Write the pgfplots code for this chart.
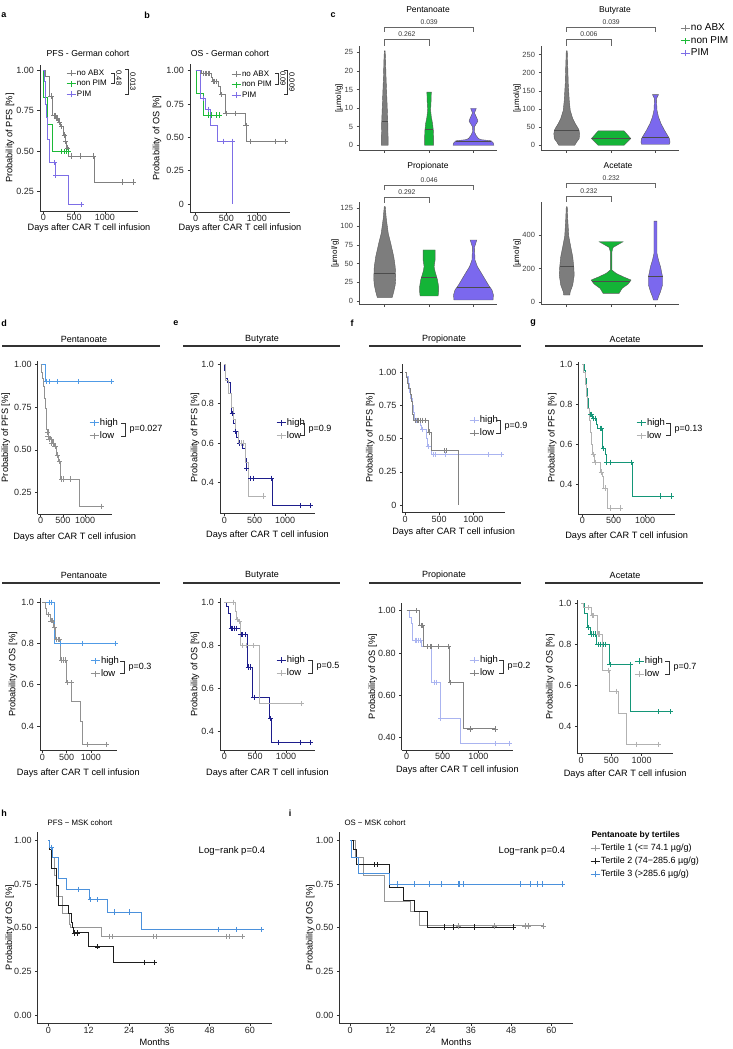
\documentclass[border=0pt]{standalone}
\usepackage{fontspec}
\setmainfont{Liberation Sans}
\usepackage{pgfplots}
\pgfplotsset{compat=1.18}
\newcommand{\fs}[1]{\fontsize{#1}{#1}\selectfont}
\definecolor{gABX}{RGB}{128,128,128}
\definecolor{gNon}{RGB}{28,185,55}
\definecolor{gPIM}{RGB}{125,110,230}
\definecolor{vGray}{RGB}{125,125,125}
\definecolor{vGreen}{RGB}{20,180,55}
\definecolor{vPurple}{RGB}{123,104,238}
\definecolor{hiBlue}{RGB}{80,155,230}
\definecolor{loGray}{RGB}{145,145,145}
\definecolor{hiNavy}{RGB}{30,30,140}
\definecolor{loLight}{RGB}{178,178,178}
\definecolor{hiLav}{RGB}{170,180,240}
\definecolor{loMid}{RGB}{130,130,130}
\definecolor{hiTeal}{RGB}{20,150,120}
\definecolor{tOne}{RGB}{150,150,150}
\definecolor{tTwo}{RGB}{30,30,30}
\definecolor{tThree}{RGB}{75,145,220}
\definecolor{axc}{RGB}{50,50,50}
\pgfplotsset{
  legend image code/.code={\draw[#1,line width=0.8pt,solid] (0pt,0pt)--(9pt,0pt); \draw[#1,line width=0.8pt,solid] (4.5pt,-3pt)--(4.5pt,3pt);},
  every axis legend/.append style={draw=none, fill=none, inner sep=0pt, anchor=north west},
  legend cell align=left,
  base/.style={
    scale only axis, anchor=south west,
    axis x line*=bottom, axis y line*=left,
    axis line style={line width=0.6pt, axc},
    tick style={line width=0.6pt, axc},
    tick align=outside, major tick length=2.5pt,
    /pgf/number format/assume math mode=true,
    every axis y label/.style={at={(axis description cs:0,0.5)}, anchor=center, rotate=90},
    every axis x label/.style={at={(axis description cs:0.5,0)}, anchor=center},
    clip=false,
  },
  km/.style={base,
    ticklabel style={font=\fs{9}, text=black!85},
    xticklabel style={inner sep=1pt},
    label style={font=\fs{9.2}},
    xtick={0,500,1000}, xticklabels={0,500,1000},
    xlabel={Days after CAR T cell infusion},
    legend style={row sep=2pt, nodes={inner sep=1pt, text height=7pt, text depth=2pt, font=\fs{9.5}}},
  },
  vax/.style={base, width=138pt, xmin=0.42, xmax=3.53, xtick={1,2,3}, xticklabels={},
    ticklabel style={font=\fs{7.5}, text=black!75},
    axis line style={line width=0.5pt, black!70}, tick style={line width=0.5pt, black!70},
    ylabel={[µmol/g]}, label style={font=\fs{8}},
  },
  cur/.style={const plot, line width=0.85pt, color=#1, mark=none},
  cen/.style={only marks, mark=+, mark size=2.6pt, color=#1, mark options={line width=0.7pt, solid}, forget plot},
  vio/.style={fill=#1, draw=black!65, line width=0.4pt, forget plot},
  med/.style={black!70, line width=0.5pt, forget plot},
}
\begin{document}
\begin{tikzpicture}
\path[use as bounding box] (0,0) rectangle (733pt,-1049pt);

%================ a =================
\begin{axis}[km, at={(40pt,-211pt)}, width=98pt, height=146pt,
 xmin=-53, xmax=1535, ymin=0.131, ymax=1.031,
 ytick={0.25,0.5,0.75,1}, yticklabels={0.25,0.50,0.75,1.00},
 ylabel={Probability of PFS [\%]}, ylabel style={yshift=30pt}, xlabel style={yshift=-17pt},
 legend style={at={(0.265,0.979)}, row sep=0.5pt, nodes={text height=6pt, text depth=2pt, font=\fs{8}}}]
\addplot[cur=gABX] coordinates {(0,1)(38,0.96)(97,0.84)(151,0.72)(200,0.70)(240,0.68)(281,0.65)(324,0.60)(351,0.56)(378,0.52)(405,0.47)(826,0.31)(1458,0.31)}; \addlegendentry{no ABX}
\addplot[cur=gNon] coordinates {(0,1)(5,0.833)(70,0.667)(146,0.5)(405,0.5)}; \addlegendentry{non PIM}
\addplot[cur=gPIM] coordinates {(0,1)(15,0.93)(30,0.86)(40,0.79)(55,0.71)(65,0.57)(97,0.43)(189,0.35)(405,0.17)(621,0.17)}; \addlegendentry{PIM}
\addplot[cen=gABX] coordinates {(125,0.84)(175,0.72)(190,0.72)(215,0.70)(230,0.70)(260,0.68)(300,0.65)(340,0.60)(365,0.56)(390,0.52)(459,0.47)(600,0.47)(810,0.47)(1285,0.31)(1458,0.31)};
\addplot[cen=gNon] coordinates {(286,0.5)(340,0.5)(378,0.5)(405,0.5)};
\addplot[cen=gPIM] coordinates {(180,0.43)(200,0.35)(621,0.17)};
\end{axis}

%================ b =================
\begin{axis}[km, at={(190pt,-212pt)}, width=100pt, height=148pt,
 xmin=-93, xmax=1541, ymin=-0.06, ymax=1.05,
 ytick={0,0.25,0.5,0.75,1}, yticklabels={0,0.25,0.50,0.75,1.00},
 ylabel={Probability of OS [\%]}, ylabel style={yshift=33pt}, xlabel style={yshift=-16pt},
 legend style={at={(0.41,0.966)}, row sep=0.5pt, nodes={text height=6pt, text depth=2pt, font=\fs{8}}}]
\addplot[cur=gABX] coordinates {(0,1)(98,0.98)(262,0.95)(278,0.92)(371,0.88)(398,0.82)(480,0.68)(807,0.59)(834,0.47)(1461,0.47)}; \addlegendentry{no ABX}
\addplot[cur=gNon] coordinates {(0,1)(5,0.833)(125,0.667)(387,0.667)}; \addlegendentry{non PIM}
\addplot[cur=gPIM] coordinates {(0,1)(71,0.79)(153,0.71)(234,0.59)(354,0.47)(600,0)}; \addlegendentry{PIM}
\addplot[cen=gABX] coordinates {(120,0.98)(150,0.98)(175,0.98)(200,0.98)(230,0.98)(290,0.92)(310,0.92)(340,0.92)(425,0.82)(496,0.68)(643,0.68)(823,0.59)(888,0.47)(1297,0.47)(1461,0.47)};
\addplot[cen=gNon] coordinates {(207,0.667)(262,0.667)(332,0.667)(387,0.667)};
\addplot[cen=gPIM] coordinates {(125,0.79)(200,0.71)(460,0.47)(600,0.47)};
\end{axis}

%================ c: Pentanoate =================
\begin{axis}[vax, at={(359pt,-150pt)}, height=103.6pt, ymin=-1.27, ymax=26.6,
 ytick={0,5,10,15,20,25}, yticklabels={0,5,10,15,20,25}, ylabel style={yshift=20pt}]
\addplot[vio=vGray] coordinates {(1.077,0)(1.074,3)(1.068,6.5)(1.050,12)(1.029,18.4)(1.018,23)(1.009,25.4)(0.991,25.4)(0.982,23)(0.971,18.4)(0.950,12)(0.932,6.5)(0.926,3)(0.923,0)} --cycle;
\addplot[vio=vGreen] coordinates {(2.101,0)(2.101,2.2)(2.095,4)(2.079,5.8)(2.050,7.6)(2.034,9.4)(2.045,12.1)(2.050,14.3)(1.950,14.3)(1.955,12.1)(1.966,9.4)(1.950,7.6)(1.921,5.8)(1.905,4)(1.899,2.2)(1.899,0)} --cycle;
\addplot[vio=vPurple] coordinates {(3.46,0)(3.45,0.6)(3.40,1.2)(3.18,1.5)(3.113,1.8)(3.056,2.7)(3.023,3.6)(3.018,4.9)(3.056,5.65)(3.101,6.5)(3.079,7.2)(3.023,8.7)(3.063,9.9)(2.937,9.9)(2.977,8.7)(2.921,7.2)(2.899,6.5)(2.944,5.65)(2.982,4.9)(2.977,3.6)(2.944,2.7)(2.887,1.8)(2.82,1.5)(2.60,1.2)(2.55,0.6)(2.54,0)} --cycle;
\addplot[med] coordinates {(0.932,6.45)(1.068,6.45)};
\addplot[med] coordinates {(1.905,4.3)(2.095,4.3)};
\addplot[med] coordinates {(2.60,1.2)(3.40,1.2)};
\end{axis}

%================ c: Butyrate =================
\begin{axis}[vax, at={(541pt,-150pt)}, height=103.8pt, ymin=-13, ymax=273,
 ytick={0,50,100,150,200,250}, yticklabels={0,50,100,150,200,250}, ylabel style={yshift=24pt},
 legend style={at={(1.007,1.233)}, row sep=0.5pt, nodes={inner sep=1pt, text height=7.5pt, text depth=2.5pt, font=\fs{10}}}]
\addplot[vio=vGray] coordinates {(1.18,0)(1.225,9.2)(1.28,18.4)(1.29,32)(1.277,41.3)(1.26,46)(1.19,60)(1.135,73.5)(1.079,96)(1.056,124)(1.034,170)(1.023,216)(1.011,260)(0.989,260)(0.977,216)(0.966,170)(0.944,124)(0.921,96)(0.865,73.5)(0.81,60)(0.74,46)(0.723,41.3)(0.71,32)(0.72,18.4)(0.775,9.2)(0.82,0)} --cycle;
\addplot[vio=vGreen] coordinates {(2.293,0)(2.444,18.4)(2.293,39.5)(1.707,39.5)(1.556,18.4)(1.707,0)} --cycle;
\addplot[vio=vPurple] coordinates {(3.315,2.8)(3.327,9.2)(3.315,18.4)(3.27,27.6)(3.203,41.3)(3.124,59.8)(3.068,78)(3.034,96.5)(3.023,128.6)(3.068,139.7)(2.932,139.7)(2.977,128.6)(2.966,96.5)(2.932,78)(2.876,59.8)(2.797,41.3)(2.73,27.6)(2.685,18.4)(2.673,9.2)(2.685,2.8)} --cycle;
\addplot[med] coordinates {(0.723,41.3)(1.277,41.3)};
\addplot[med] coordinates {(1.56,19)(2.44,19)};
\addplot[med] coordinates {(2.70,23)(3.30,23)};
\addlegendimage{color=gABX, line width=0.8pt} \addlegendentry{no ABX}
\addlegendimage{color=gNon, line width=0.8pt} \addlegendentry{non PIM}
\addlegendimage{color=gPIM, line width=0.8pt} \addlegendentry{PIM}
\end{axis}

%================ c: Propionate =================
\begin{axis}[vax, at={(359pt,-304.7pt)}, height=102.3pt, ymin=-5.25, ymax=132.25,
 ytick={0,25,50,75,100,125}, yticklabels={0,25,50,75,100,125}, ylabel style={yshift=24pt}]
\addplot[vio=vGray] coordinates {(1.169,4.7)(1.203,12.2)(1.236,21.2)(1.248,30.2)(1.236,45.8)(1.203,59.3)(1.135,77.3)(1.079,90.7)(1.034,110.9)(1.011,126.5)(0.989,126.5)(0.966,110.9)(0.921,90.7)(0.865,77.3)(0.797,59.3)(0.764,45.8)(0.752,30.2)(0.764,21.2)(0.797,12.2)(0.831,4.7)} --cycle;
\addplot[vio=vGreen] coordinates {(2.203,6.5)(2.214,12.2)(2.214,19)(2.19,28)(2.135,39.1)(2.113,45.8)(2.135,54.8)(2.135,68.3)(1.865,68.3)(1.865,54.8)(1.887,45.8)(1.865,39.1)(1.81,28)(1.786,19)(1.786,12.2)(1.797,6.5)} --cycle;
\addplot[vio=vPurple] coordinates {(3.44,1.1)(3.45,7.8)(3.417,14.5)(3.338,21.2)(3.27,28)(3.18,37)(3.09,45.8)(3.034,54.8)(3.023,71.9)(3.074,81.7)(2.926,81.7)(2.977,71.9)(2.966,54.8)(2.91,45.8)(2.82,37)(2.73,28)(2.662,21.2)(2.583,14.5)(2.55,7.8)(2.56,1.1)} --cycle;
\addplot[med] coordinates {(0.76,37)(1.24,37)};
\addplot[med] coordinates {(1.825,31.6)(2.175,31.6)};
\addplot[med] coordinates {(2.62,17.6)(3.38,17.6)};
\end{axis}

%================ c: Acetate =================
\begin{axis}[vax, at={(541pt,-304.7pt)}, height=102.3pt, ymin=-16, ymax=598,
 ytick={0,200,400}, yticklabels={0,200,400}, ylabel style={yshift=24pt}]
\addplot[vio=vGray] coordinates {(1.068,42)(1.079,62)(1.135,102)(1.169,162)(1.158,212)(1.135,272)(1.09,332)(1.045,396)(1.023,496)(1.011,572)(0.989,572)(0.977,496)(0.955,396)(0.91,332)(0.865,272)(0.842,212)(0.831,162)(0.865,102)(0.921,62)(0.932,42)} --cycle;
\addplot[vio=vGreen] coordinates {(2.18,52)(2.248,82)(2.383,108)(2.45,132)(2.27,152)(2.113,172)(2.018,192)(2.018,302)(2.045,328)(2.27,362)(1.73,362)(1.955,328)(1.982,302)(1.982,192)(1.887,172)(1.73,152)(1.55,132)(1.617,108)(1.752,82)(1.82,52)} --cycle;
\addplot[vio=vPurple] coordinates {(3.045,12)(3.068,32)(3.113,62)(3.158,102)(3.158,152)(3.113,212)(3.068,252)(3.034,292)(3.034,486)(2.966,486)(2.966,292)(2.932,252)(2.887,212)(2.842,152)(2.842,102)(2.887,62)(2.932,32)(2.955,12)} --cycle;
\addplot[med] coordinates {(0.842,212)(1.158,212)};
\addplot[med] coordinates {(1.57,122)(2.43,122)};
\addplot[med] coordinates {(2.842,152)(3.158,152)};
\end{axis}

%================ d PFS =================
\begin{axis}[km, at={(37.7pt,-514pt)}, width=74pt, height=153.1pt,
 xmin=-68, xmax=1600, ymin=0.125, ymax=1.02,
 ytick={0.25,0.5,0.75,1}, yticklabels={0.25,0.50,0.75,1.00},
 ylabel={Probability of PFS [\%]}, ylabel style={yshift=32pt}, xlabel style={yshift=-22.7pt},
 legend style={at={(0.693,0.634)}}]
\addplot[cur=hiBlue] coordinates {(0,1)(97,0.9)(1583,0.9)}; \addlegendentry{high}
\addplot[cur=loGray] coordinates {(0,1)(10,0.98)(22,0.95)(45,0.92)(60,0.87)(82,0.80)(97,0.74)(120,0.68)(135,0.62)(172,0.58)(210,0.56)(270,0.54)(300,0.52)(360,0.47)(397,0.43)(435,0.40)(450,0.33)(862,0.17)(1372,0.17)}; \addlegendentry{low}
\addplot[cen=hiBlue] coordinates {(135,0.9)(195,0.9)(375,0.9)(848,0.9)(1583,0.9)};
\addplot[cen=loGray] coordinates {(150,0.60)(165,0.58)(185,0.56)(230,0.56)(250,0.54)(280,0.54)(320,0.52)(375,0.47)(420,0.43)(472,0.33)(510,0.33)(660,0.33)(1372,0.17)};
\end{axis}

%================ e PFS =================
\begin{axis}[km, at={(220pt,-513.3pt)}, width=95pt, height=151.3pt,
 xmin=-71, xmax=1494, ymin=0.242, ymax=1.012,
 ytick={0.4,0.6,0.8,1}, yticklabels={0.4,0.6,0.8,1.0},
 ylabel={Probability of PFS [\%]}, ylabel style={yshift=25pt}, xlabel style={yshift=-21.7pt},
 legend style={at={(0.589,0.636)}}]
\addplot[cur=hiNavy] coordinates {(0,1)(5,0.97)(11,0.93)(55,0.91)(93,0.85)(121,0.75)(148,0.70)(176,0.66)(203,0.63)(231,0.60)(296,0.57)(340,0.52)(368,0.47)(395,0.42)(796,0.28)(1411,0.28)}; \addlegendentry{high}
\addplot[cur=loLight] coordinates {(0,1)(16,0.92)(60,0.85)(121,0.78)(148,0.72)(176,0.66)(231,0.60)(340,0.50)(395,0.33)(642,0.33)}; \addlegendentry{low}
\addplot[cen=hiNavy] coordinates {(130,0.75)(185,0.66)(250,0.60)(370,0.47)(434,0.42)(478,0.42)(780,0.42)(1246,0.28)(1411,0.28)};
\addplot[cen=loLight] coordinates {(285,0.60)(320,0.60)(642,0.33)};
\end{axis}

%================ f PFS =================
\begin{axis}[km, at={(402.3pt,-512.3pt)}, width=102.7pt, height=148.3pt,
 xmin=-40, xmax=1464, ymin=-0.055, ymax=1.063,
 ytick={0,0.25,0.5,0.75,1}, yticklabels={0,0.25,0.50,0.75,1.00},
 ylabel={Probability of PFS [\%]}, ylabel style={yshift=32pt}, xlabel style={yshift=-19.4pt},
 legend style={at={(0.649,0.66)}}]
\addplot[cur=hiLav] coordinates {(0,1)(24,0.97)(49,0.92)(63,0.85)(83,0.80)(107,0.75)(122,0.70)(137,0.64)(220,0.60)(244,0.57)(317,0.50)(327,0.44)(390,0.38)(1415,0.38)}; \addlegendentry{high}
\addplot[cur=loMid] coordinates {(0,1)(15,0.96)(34,0.92)(54,0.88)(73,0.83)(88,0.78)(102,0.72)(112,0.68)(127,0.64)(342,0.55)(390,0.41)(781,0.0)}; \addlegendentry{low}
\addplot[cen=hiLav] coordinates {(170,0.64)(200,0.64)(260,0.57)(340,0.44)(415,0.38)(439,0.38)(586,0.38)(1220,0.38)(1415,0.38)};
\addplot[cen=loMid] coordinates {(150,0.64)(180,0.64)(200,0.64)(230,0.64)(260,0.64)(300,0.64)(356,0.55)(571,0.41)(610,0.41)};
\end{axis}

%================ g PFS =================
\begin{axis}[km, at={(578.3pt,-514pt)}, width=96.7pt, height=151.7pt,
 xmin=-64, xmax=1478, ymin=0.25, ymax=1.01,
 ytick={0.4,0.6,0.8,1}, yticklabels={0.4,0.6,0.8,1.0},
 ylabel={Probability of PFS [\%]}, ylabel style={yshift=26pt}, xlabel style={yshift=-21.7pt},
 legend style={at={(0.597,0.639)}}]
\addplot[cur=hiTeal] coordinates {(0,1)(27,0.97)(43,0.93)(59,0.88)(80,0.83)(96,0.78)(112,0.75)(165,0.73)(218,0.70)(245,0.68)(319,0.58)(362,0.55)(378,0.51)(798,0.34)(1426,0.34)}; \addlegendentry{high}
\addplot[cur=loLight] coordinates {(0,1)(16,0.96)(43,0.90)(59,0.84)(80,0.78)(112,0.72)(133,0.66)(150,0.60)(165,0.55)(186,0.51)(282,0.46)(319,0.44)(335,0.38)(399,0.28)(612,0.28)}; \addlegendentry{low}
\addplot[cen=hiTeal] coordinates {(130,0.75)(150,0.75)(180,0.73)(200,0.73)(280,0.68)(300,0.68)(340,0.58)(390,0.51)(452,0.51)(787,0.51)(1240,0.34)(1426,0.34)};
\addplot[cen=loLight] coordinates {(175,0.55)(200,0.51)(300,0.46)(360,0.38)(442,0.28)(612,0.28)};
\end{axis}

%================ d OS =================
\begin{axis}[km, at={(40pt,-750.7pt)}, width=76.7pt, height=152.5pt,
 xmin=-47, xmax=1528, ymin=0.28, ymax=1.02,
 ytick={0.4,0.6,0.8,1}, yticklabels={0.4,0.6,0.8,1.0},
 ylabel={Probability of OS [\%]}, ylabel style={yshift=27pt}, xlabel style={yshift=-22.6pt},
 legend style={at={(0.652,0.628)}}]
\addplot[cur=hiBlue] coordinates {(0,1)(240,0.8)(1493,0.8)}; \addlegendentry{high}
\addplot[cur=loGray] coordinates {(0,1)(55,0.97)(89,0.94)(158,0.91)(226,0.88)(274,0.82)(377,0.72)(486,0.61)(603,0.52)(774,0.42)(822,0.31)(1322,0.31)}; \addlegendentry{low}
\addplot[cen=hiBlue] coordinates {(144,1)(178,1)(363,0.8)(829,0.8)(1493,0.8)};
\addplot[cen=loGray] coordinates {(123,0.94)(180,0.91)(200,0.91)(250,0.88)(295,0.82)(320,0.82)(349,0.82)(397,0.72)(430,0.72)(466,0.72)(521,0.61)(603,0.61)(925,0.31)(1322,0.31)};
\end{axis}

%================ e OS =================
\begin{axis}[km, at={(220pt,-750pt)}, width=95pt, height=152pt,
 xmin=-70, xmax=1470, ymin=0.315, ymax=1.02,
 ytick={0.4,0.6,0.8,1}, yticklabels={0.4,0.6,0.8,1.0},
 ylabel={Probability of OS [\%]}, ylabel style={yshift=25pt}, xlabel style={yshift=-23.3pt},
 legend style={at={(0.589,0.628)}}]
\addplot[cur=hiNavy] coordinates {(0,1)(38,0.98)(65,0.95)(92,0.88)(254,0.85)(373,0.70)(454,0.56)(729,0.46)(767,0.35)(1388,0.35)}; \addlegendentry{high}
\addplot[cur=loLight] coordinates {(0,1)(173,0.96)(200,0.92)(227,0.91)(265,0.80)(567,0.53)(1253,0.53)}; \addlegendentry{low}
\addplot[cen=hiNavy] coordinates {(110,0.88)(130,0.88)(160,0.88)(200,0.88)(270,0.85)(300,0.85)(340,0.85)(390,0.70)(420,0.70)(481,0.56)(751,0.46)(875,0.35)(1226,0.35)(1388,0.35)};
\addplot[cen=loLight] coordinates {(146,1.0)(215,0.92)(240,0.91)(300,0.80)(362,0.80)(470,0.80)(1253,0.53)};
\end{axis}

%================ f OS =================
\begin{axis}[km, at={(401.7pt,-750pt)}, width=111.3pt, height=146.9pt,
 xmin=-70, xmax=1483, ymin=0.34, ymax=1.036,
 ytick={0.4,0.6,0.8,1}, yticklabels={0.40,0.60,0.80,1.00},
 ylabel={Probability of OS [\%]}, ylabel style={yshift=29pt}, xlabel style={yshift=-20pt},
 legend style={at={(0.605,0.65)}}]
\addplot[cur=hiLav] coordinates {(0,1)(37,0.97)(70,0.94)(84,0.86)(209,0.83)(339,0.66)(465,0.49)(753,0.37)(1432,0.37)}; \addlegendentry{high}
\addplot[cur=loMid] coordinates {(0,1)(177,0.93)(233,0.83)(595,0.66)(791,0.44)(1232,0.44)}; \addlegendentry{low}
\addplot[cen=hiLav] coordinates {(116,0.86)(140,0.86)(165,0.86)(186,0.86)(380,0.66)(420,0.66)(474,0.49)(1232,0.37)(1432,0.37)};
\addplot[cen=loMid] coordinates {(140,1.0)(200,0.93)(215,0.93)(288,0.83)(326,0.83)(349,0.83)(442,0.83)(580,0.83)(614,0.66)(884,0.44)(1232,0.44)};
\end{axis}

%================ g OS =================
\begin{axis}[km, at={(577.3pt,-753.3pt)}, width=95.7pt, height=153.1pt,
 xmin=-61, xmax=1516, ymin=0.266, ymax=1.015,
 ytick={0.4,0.6,0.8,1}, yticklabels={0.4,0.6,0.8,1.0},
 ylabel={Probability of OS [\%]}, ylabel style={yshift=27pt}, xlabel style={yshift=-21pt},
 legend style={at={(0.592,0.639)}}]
\addplot[cur=hiTeal] coordinates {(0,1)(60,0.95)(104,0.88)(148,0.85)(258,0.80)(461,0.70)(818,0.47)(1466,0.47)}; \addlegendentry{high}
\addplot[cur=loLight] coordinates {(0,1)(38,0.98)(176,0.94)(269,0.85)(351,0.67)(467,0.57)(615,0.46)(752,0.31)(1274,0.31)}; \addlegendentry{low}
\addplot[cen=hiTeal] coordinates {(120,0.88)(165,0.85)(200,0.85)(230,0.85)(280,0.80)(320,0.80)(360,0.80)(400,0.80)(478,0.70)(807,0.70)(1274,0.47)(1466,0.47)};
\addplot[cen=loLight] coordinates {(121,0.98)(190,0.94)(210,0.94)(290,0.85)(310,0.85)(450,0.67)(587,0.57)(917,0.31)(1274,0.31)};
\end{axis}

%================ h =================
\begin{axis}[km, at={(37.7pt,-1023.7pt)}, width=234pt, height=192.1pt,
 xmin=-3.2, xmax=66.5, ymin=-0.05, ymax=1.05,
 xtick={0,12,24,36,48,60}, xticklabels={0,12,24,36,48,60}, xlabel={Months},
 ytick={0,0.25,0.5,0.75,1}, yticklabels={0.00,0.25,0.50,0.75,1.00},
 ylabel={Probability of OS [\%]}, ylabel style={yshift=28pt}, xlabel style={yshift=-18pt}]
\addplot[cur=tOne] coordinates {(0,1)(0.3,0.95)(1.0,0.90)(1.8,0.80)(2.3,0.68)(4.1,0.58)(6.3,0.52)(6.4,0.50)(15.7,0.45)(57.8,0.45)};
\addplot[cur=tTwo] coordinates {(0,1)(0.3,0.95)(0.8,0.84)(2.3,0.74)(3.1,0.63)(6.1,0.58)(6.7,0.53)(7.2,0.50)(7.4,0.47)(12.0,0.39)(19.4,0.30)(31.5,0.30)};
\addplot[cur=tThree] coordinates {(0,1)(0.3,0.96)(1.1,0.90)(3.1,0.78)(5.3,0.72)(12.2,0.66)(17.7,0.59)(27.6,0.49)(63.3,0.49)};
\addplot[cen=tOne] coordinates {(18.2,0.45)(19.1,0.45)(31.1,0.45)(32.0,0.45)(52.9,0.45)(53.9,0.45)(57.8,0.45)};
\addplot[cen=tTwo] coordinates {(7.7,0.47)(8.7,0.47)(14.7,0.39)(28.6,0.30)(31.5,0.30)};
\addplot[cen=tThree] coordinates {(0.8,0.96)(9.0,0.72)(12.5,0.66)(14.7,0.66)(19.6,0.59)(24.1,0.59)(50.6,0.49)(55.9,0.49)(63.3,0.49)};
\end{axis}

%================ i =================
\begin{axis}[km, at={(339.3pt,-1023.7pt)}, width=234pt, height=192.1pt,
 xmin=-3.2, xmax=66.5, ymin=-0.05, ymax=1.05,
 xtick={0,12,24,36,48,60}, xticklabels={0,12,24,36,48,60}, xlabel={Months},
 ytick={0,0.25,0.5,0.75,1}, yticklabels={0.00,0.25,0.50,0.75,1.00},
 ylabel={Probability of OS [\%]}, ylabel style={yshift=29pt}, xlabel style={yshift=-18pt},
 legend style={at={(1.071,0.943)}, nodes={font=\fs{9}}}]
\addplot[cur=tOne] coordinates {(0,1)(1.5,0.90)(4,0.80)(10.1,0.65)(17.9,0.594)(20.6,0.51)(57.7,0.51)}; \addlegendentry{Tertile 1 (\textless= 74.1 µg/g)}
\addplot[cur=tTwo] coordinates {(0,1)(1,0.95)(2,0.86)(11.85,0.73)(15.8,0.655)(19.1,0.594)(23.0,0.504)(48.7,0.504)}; \addlegendentry{Tertile 2 (74−285.6 µg/g)}
\addplot[cur=tThree] coordinates {(0,1)(0.5,0.90)(2.5,0.81)(11.85,0.75)(63.2,0.75)}; \addlegendentry{Tertile 3 (\textgreater285.6 µg/g)}
\addplot[cen=tOne] coordinates {(32.2,0.51)(43.1,0.51)(52.1,0.51)(53.2,0.51)(57.7,0.51)};
\addplot[cen=tTwo] coordinates {(7.1,0.86)(8.2,0.86)(28.1,0.504)(30.7,0.504)(37.1,0.504)(48.7,0.504)};
\addplot[cen=tThree] coordinates {(14.2,0.75)(19.1,0.75)(23.6,0.75)(27.2,0.75)(32.2,0.75)(32.6,0.75)(33.7,0.75)(50.6,0.75)(53.7,0.75)(55.7,0.75)(57.2,0.75)(63.2,0.75)};
\end{axis}

%================ annotations =================
\begin{scope}[x=1pt,y=-1pt]
\tikzset{lab/.style={font=\bfseries\fs{9}}, br/.style={axc, line width=0.5pt}, pv/.style={font=\fs{9}, anchor=west}}
\node[lab] at (4,15) {a};
\node[lab] at (147,15) {b};
\node[lab] at (333,15) {c};
\node[lab] at (4,323) {d};
\node[lab] at (176,323) {e};
\node[lab] at (352,323) {f};
\node[lab] at (533,323) {g};
\node[lab] at (4,813) {h};
\node[lab] at (290,813) {i};
% a, b titles and p brackets
\node[font=\fs{8.7}] at (88,53) {PFS - German cohort};
\node[font=\fs{8.7}] at (230,53) {OS - German cohort};
\draw[br] (111,73)--(114,73)--(114,83)--(111,83);
\node[rotate=-90,font=\fs{7.5}] at (119,78) {0.48};
\draw[br] (125,69)--(128,69)--(128,94)--(125,94);
\node[rotate=-90,font=\fs{7.5}] at (133,81.5) {0.013};
\draw[br] (275,73)--(278,73)--(278,84)--(275,84);
\node[rotate=-90,font=\fs{7.5}] at (283,78.5) {0.09};
\draw[br] (284,70)--(287,70)--(287,94)--(284,94);
\node[rotate=-90,font=\fs{7.5}] at (292,82) {0.009};
% c titles and brackets
\node[font=\fs{8.5}] at (428,10) {Pentanoate};
\node[font=\fs{8.5}] at (615,10) {Butyrate};
\node[font=\fs{8.5}] at (428,166) {Propionate};
\node[font=\fs{8.5}] at (618,166) {Acetate};
\tikzset{cb/.style={black!60, line width=0.6pt}, cp/.style={font=\fs{6.8}, text=black!80}}
\draw[cb] (384.7,32)--(384.7,27.3)--(473.5,27.3)--(473.5,32);
\node[cp] at (429.1,22) {0.039};
\draw[cb] (384.7,46)--(384.7,39.3)--(429.1,39.3)--(429.1,46);
\node[cp] at (406.9,34) {0.262};
\draw[cb] (566.7,32)--(566.7,27.3)--(655.5,27.3)--(655.5,32);
\node[cp] at (611.1,22) {0.039};
\draw[cb] (566.7,46)--(566.7,39.3)--(611.1,39.3)--(611.1,46);
\node[cp] at (588.9,34) {0.006};
\draw[cb] (384.7,190)--(384.7,185)--(473.5,185)--(473.5,190);
\node[cp] at (429.1,180) {0.046};
\draw[cb] (384.7,203)--(384.7,197)--(429.1,197)--(429.1,203);
\node[cp] at (406.9,192) {0.292};
\draw[cb] (566.7,188)--(566.7,183)--(655.5,183)--(655.5,188);
\node[cp] at (611.1,178) {0.232};
\draw[cb] (566.7,202)--(566.7,196)--(611.1,196)--(611.1,202);
\node[cp] at (588.9,191) {0.232};
% d-g headers
\tikzset{hd/.style={font=\fs{9}}, hl/.style={black!80, line width=1.1pt}}
\node[hd] at (84,339) {Pentanoate}; \draw[hl] (2,346)--(160,346);
\node[hd] at (262,339) {Butyrate}; \draw[hl] (183,346)--(340,346);
\node[hd] at (444,339) {Propionate}; \draw[hl] (369,346)--(521,346);
\node[hd] at (625,339) {Acetate}; \draw[hl] (545,346)--(703,346);
\node[hd] at (84,575) {Pentanoate}; \draw[hl] (2,583)--(160,583);
\node[hd] at (262,575) {Butyrate}; \draw[hl] (183,583)--(340,583);
\node[hd] at (444,575) {Propionate}; \draw[hl] (369,583)--(521,583);
\node[hd] at (625,575) {Acetate}; \draw[hl] (545,583)--(703,583);
% d-g p-values
\draw[br] (121,423)--(125,423)--(125,436)--(121,436); \node[pv] at (126,429.5) {p=0.027};
\draw[br] (300,423)--(304,423)--(304,435)--(300,435); \node[pv] at (305,429) {p=0.9};
\draw[br] (496,420)--(500,420)--(500,433)--(496,433); \node[pv] at (501,426.5) {p=0.9};
\draw[br] (666,423)--(670,423)--(670,435)--(666,435); \node[pv] at (671,429) {p=0.13};
\draw[br] (120,661)--(124,661)--(124,673)--(120,673); \node[pv] at (125,667) {p=0.3};
\draw[br] (308,660)--(312,660)--(312,673)--(308,673); \node[pv] at (313,666.5) {p=0.5};
\draw[br] (499,660)--(503,660)--(503,673)--(499,673); \node[pv] at (504,666.5) {p=0.2};
\draw[br] (665,661)--(669,661)--(669,674)--(665,674); \node[pv] at (670,667.5) {p=0.7};
% h, i
\node[font=\fs{7.8}] at (80,823) {PFS − MSK cohort};
\node[font=\fs{7.8}] at (375,823) {OS − MSK cohort};
\node[font=\fs{9.5}] at (232,851) {Log−rank p=0.4};
\node[font=\fs{9.5}] at (532,851) {Log−rank p=0.4};
\node[font=\bfseries\fs{8.5}, anchor=west] at (588,835) {Pentanoate by tertiles};
\end{scope}
\end{tikzpicture}
\end{document}
